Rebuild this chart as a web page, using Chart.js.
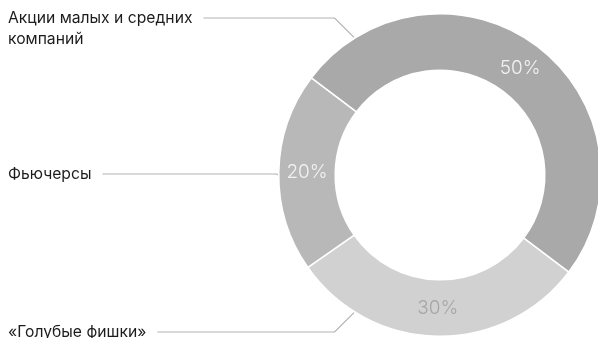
<!DOCTYPE html>
<html>
<head>
<meta charset="utf-8">
<script src="https://cdn.jsdelivr.net/npm/chart.js@4/dist/chart.umd.min.js"></script>
<style>
    html, body { margin: 0; padding: 0; background: #fff; overflow: hidden; }
    #wrap { width: 606px; height: 338px; position: relative; }
</style>
</head>
<body>
<div id="wrap"><canvas id="portfolio"></canvas></div>
<script>
    const LABELS = [
        ['Акции малых и средних', 'компаний'],
        ['«Голубые фишки»'],
        ['Фьючерсы']
    ];
    const SHARES = [50, 30, 20];
    const PERCENT_TEXT = ['50%', '30%', '20%'];

    const sliceColor = ['#a9a9a9', '#d1d1d1', '#b8b8b8'];
    const percentColor = ['#f2f2f2', '#a6a6a6', '#f2f2f2'];

    // where each caption sits on the left and where its leader hits the ring
    const callouts = [
        { y: 18, angle: -122 },
        { y: 332, angle: 122 },
        { y: 174, angle: 180 }
    ];

    const FONT = '"Inter", "Roboto", sans-serif';

    const ringLabels = {
        id: 'ringLabels',
        afterDatasetsDraw(chart) {
            const ctx = chart.ctx;
            const arcs = chart.getDatasetMeta(0).data;
            ctx.save();

            // percentages in the middle of each slice
            ctx.font = '300 19px ' + FONT;
            ctx.textAlign = 'center';
            ctx.textBaseline = 'middle';
            arcs.forEach((arc, i) => {
                const p = arc.tooltipPosition();
                ctx.fillStyle = percentColor[i];
                ctx.fillText(PERCENT_TEXT[i], p.x, p.y);
            });

            // captions with leader lines
            ctx.font = '400 15.7px ' + FONT;
            ctx.textAlign = 'left';
            arcs.forEach((arc, i) => {
                const c = callouts[i];
                const lines = LABELS[i];
                lines.forEach((t, k) => {
                    ctx.fillStyle = '#1c1c1c';
                    ctx.fillText(t, 8, c.y + k * 21);
                });
                const textEnd = 8 + ctx.measureText(lines[0]).width + 11;
                const a = c.angle * Math.PI / 180;
                const ex = arc.x + Math.cos(a) * (arc.outerRadius + 1);
                const ey = arc.y + Math.sin(a) * (arc.outerRadius + 1);
                const elbowX = ex - Math.abs(ey - c.y);

                ctx.strokeStyle = '#b3b3b3';
                ctx.lineWidth = 1.2;
                ctx.beginPath();
                ctx.moveTo(textEnd, c.y);
                ctx.lineTo(Math.max(elbowX, textEnd), c.y);
                ctx.lineTo(ex, ey);
                ctx.stroke();
            });
            ctx.restore();
        }
    };

    new Chart(document.getElementById('portfolio'), {
        type: 'doughnut',
        data: {
            labels: LABELS.map(l => l.join(' ')),
            datasets: [{
                data: SHARES,
                backgroundColor: sliceColor,
                borderColor: '#ffffff',
                borderWidth: 1.5,
                hoverOffset: 0
            }]
        },
        options: {
            responsive: true,
            maintainAspectRatio: false,
            animation: false,
            rotation: -53,
            cutout: '65%',
            layout: {
                padding: { left: 278, right: 4, top: 13, bottom: 1 }
            },
            plugins: {
                legend: { display: false },
                tooltip: { enabled: false }
            }
        },
        plugins: [ringLabels]
    });
</script>
</body>
</html>
